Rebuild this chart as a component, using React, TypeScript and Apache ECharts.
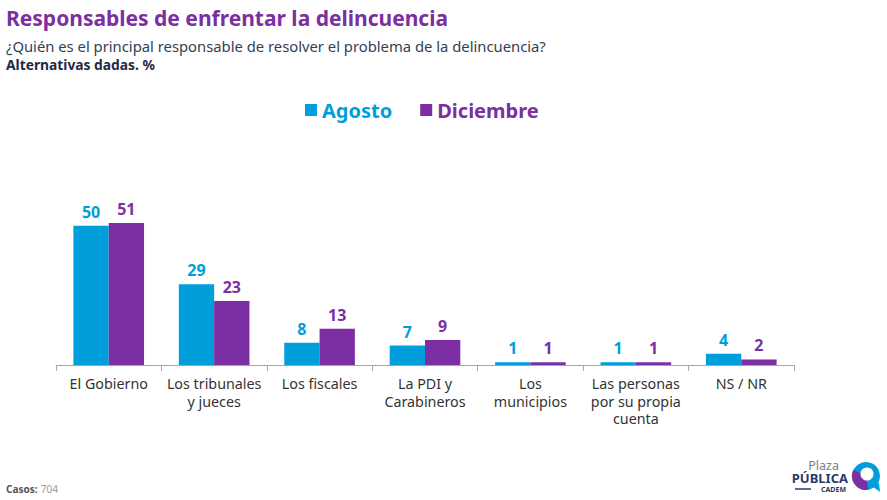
import React, { useEffect, useRef } from "react";
import * as echarts from "echarts";

const categories = [
  "El Gobierno",
  "Los tribunales\ny jueces",
  "Los fiscales",
  "La PDI y\nCarabineros",
  "Los\nmunicipios",
  "Las personas\npor su propia\ncuenta",
  "NS / NR",
];
const agosto = [50, 29, 8, 7, 1, 1, 4];
const diciembre = [51, 23, 13, 9, 1, 1, 2];
const seriesNames = ["Agosto", "Diciembre"];

const BLUE = "#009FDB";
const PURPLE = "#7B2FA3";
const FONT = "'Noto Sans', Lato, sans-serif";

export default function App() {
  const ref = useRef<HTMLDivElement>(null);
  useEffect(() => {
    if (!ref.current) return;
    const chart = echarts.init(ref.current, null, { renderer: "svg" });
    const labelStyle = (color: string) => ({
      show: true,
      position: "top" as const,
      distance: 6,
      color,
      fontFamily: FONT,
      fontWeight: "bold" as const,
      fontSize: 16,
    });
    chart.setOption({
      animation: false,
      backgroundColor: "#ffffff",
      textStyle: { fontFamily: FONT },
      title: [
        {
          text: "Responsables de enfrentar la delincuencia",
          left: 6,
          top: 6,
          padding: 0,
          textStyle: { color: "#7B2FA0", fontSize: 21, lineHeight: 24, fontWeight: "bold", fontFamily: FONT },
        },
        {
          text: "¿Quién es el principal responsable de resolver el problema de la delincuencia?",
          left: 6,
          top: 38,
          padding: 0,
          textStyle: { color: "#333F55", fontSize: 14.8, lineHeight: 16, fontWeight: "normal", fontFamily: FONT },
        },
        {
          text: "Alternativas dadas. %",
          left: 6,
          top: 57,
          padding: 0,
          textStyle: { color: "#1F2A44", fontSize: 13.8, lineHeight: 15, fontWeight: "bold", fontFamily: FONT },
        },
      ],
      legend: {
        data: [
          { name: seriesNames[0], textStyle: { color: BLUE } },
          { name: seriesNames[1], textStyle: { color: PURPLE } },
        ],
        top: 100,
        left: 305,
        padding: 0,
        itemWidth: 12,
        itemHeight: 12,
        itemGap: 28,
        icon: "rect",
        textStyle: {
          fontSize: 20,
          fontWeight: "bold",
          fontFamily: FONT,
        },
      },
      grid: { left: 56, right: 93, top: 198, bottom: 135 },
      xAxis: {
        type: "category",
        data: categories,
        axisLine: { lineStyle: { color: "#A6A6A6" } },
        axisTick: { show: true, length: 6, lineStyle: { color: "#A6A6A6" } },
        axisLabel: {
          color: "#333333",
          fontSize: 14.3,
          fontFamily: FONT,
          margin: 10,
          lineHeight: 17.5,
          interval: 0,
        },
      },
      yAxis: {
        type: "value",
        min: 0,
        max: 60,
        show: false,
        splitLine: { show: false },
      },
      series: [
        {
          name: seriesNames[0],
          type: "bar",
          data: agosto,
          itemStyle: { color: BLUE },
          barGap: "0%",
          barCategoryGap: "33%",
          label: labelStyle(BLUE),
        },
        {
          name: seriesNames[1],
          type: "bar",
          data: diciembre,
          itemStyle: { color: PURPLE },
          barGap: "0%",
          barCategoryGap: "33%",
          label: labelStyle(PURPLE),
        },
      ],
      graphic: [
        {
          type: "text",
          left: 6,
          top: 483,
          style: {
            text: "{a|Casos:} {b|704}",
            rich: {
              a: { fontSize: 10, fontWeight: "bold", fill: "#555555", fontFamily: FONT },
              b: { fontSize: 10, fill: "#9A9A9A", fontFamily: FONT },
            },
          },
        },
        {
          type: "text",
          right: 39,
          top: 459,
          style: {
            text: "{p|Plaza}\n{b|PÚBLICA}\n{c|CADEM}",
            align: "right",
            rich: {
              p: { fontSize: 12.5, lineHeight: 12, fill: "#7A7F8C", fontFamily: FONT, align: "right", padding: [0, 9, 0, 0] },
              b: { fontSize: 13, lineHeight: 13, fontWeight: "bold", fill: "#2B3A67", fontFamily: FONT, align: "right" },
              c: { fontSize: 7, lineHeight: 9, fontWeight: "bold", fill: "#2B3A67", fontFamily: FONT, align: "right", padding: [0, 2, 0, 0] },
            },
          },
        },
        {
          type: "line",
          shape: { x1: 795, y1: 489, x2: 811, y2: 489 },
          style: { stroke: "#2B3A67", lineWidth: 1.5 },
        },
        {
          type: "circle",
          shape: { cx: 866, cy: 476, r: 14 },
          style: { fill: BLUE },
        },
        {
          type: "sector",
          shape: { cx: 866, cy: 476, r: 14, r0: 0, startAngle: Math.PI * 0.45, endAngle: Math.PI * 1.15 },
          style: { fill: PURPLE },
        },
        {
          type: "polygon",
          shape: { points: [[872, 486], [879, 483], [880, 492]] },
          style: { fill: BLUE },
        },
        {
          type: "circle",
          shape: { cx: 867, cy: 474, r: 6.5 },
          style: { fill: "#ffffff" },
        },
      ],
    });
    return () => chart.dispose();
  }, []);
  return <div ref={ref} style={{ width: 887, height: 500, position: "absolute", left: 0, top: 0 }} />;
}
